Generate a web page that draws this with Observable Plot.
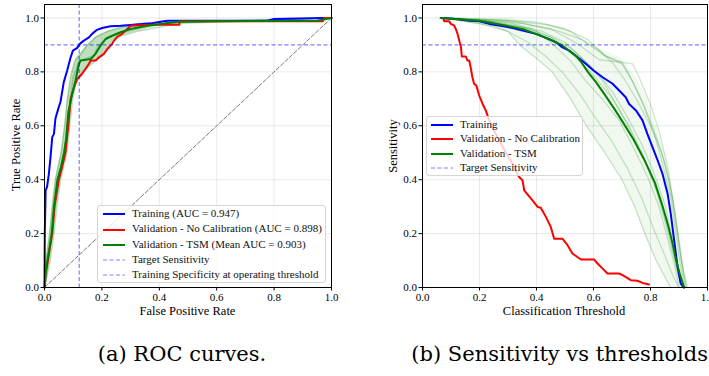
<!DOCTYPE html>
<html><head><meta charset="utf-8">
<script src="https://cdn.jsdelivr.net/npm/d3@7"></script>
<script src="https://cdn.jsdelivr.net/npm/@observablehq/plot@0.6"></script>
<style>
body{margin:0;background:#fff;}
#wrap{position:relative;width:709px;height:376px;overflow:hidden;font-family:"Liberation Serif",serif;color:#000;background:#fff;}
.panel{position:absolute;top:0;}
.lab{position:absolute;font-size:12.5px;line-height:12.5px;white-space:nowrap;}
.cap{position:absolute;font-family:"DejaVu Serif",serif;font-size:21px;line-height:21px;white-space:nowrap;transform:translateX(-50%);}
.legend{position:absolute;background:rgba(255,255,255,0.8);border:1px solid #d6d6d6;border-radius:3px;box-sizing:border-box;color:#111;}
.row{position:absolute;white-space:nowrap;line-height:1;}
.sw{position:absolute;}
</style></head>
<body><div id="wrap"></div>
<script>
// ---------- data: panel (a) ROC ----------
const ticks = [0, 0.2, 0.4, 0.6, 0.8, 1.0];
const targetSensitivity = 0.9;
const trainingOpFPR = 0.121;
const chance = [0, 1];

const blueA = [[0,0],[0.001,0.2],[0.004,0.36],[0.009,0.373],[0.015,0.42],[0.021,0.484],[0.027,0.558],[0.033,0.57],[0.038,0.626],[0.047,0.66],[0.056,0.69],[0.067,0.761],[0.079,0.805],[0.091,0.854],[0.099,0.879],[0.114,0.889],[0.123,0.904],[0.137,0.916],[0.155,0.928],[0.166,0.941],[0.183,0.956],[0.201,0.963],[0.23,0.969],[0.265,0.971],[0.3,0.974],[0.37,0.98],[0.405,0.986],[0.428,0.99],[0.777,0.99],[0.8,0.996],[0.974,1],[1,1]];
const redA = [[0,0],[0.003,0.05],[0.012,0.1],[0.019,0.15],[0.027,0.2],[0.035,0.3],[0.05,0.4],[0.062,0.45],[0.073,0.5],[0.078,0.55],[0.083,0.6],[0.091,0.7],[0.105,0.75],[0.114,0.774],[0.12,0.78],[0.131,0.793],[0.143,0.811],[0.155,0.83],[0.161,0.842],[0.178,0.842],[0.19,0.854],[0.207,0.867],[0.219,0.885],[0.236,0.904],[0.242,0.916],[0.254,0.931],[0.271,0.941],[0.288,0.959],[0.3,0.971],[0.37,0.975],[0.47,0.975],[0.47,0.988],[0.97,0.988],[0.975,1],[1,1]];
const greenA = [[0,0],[0.004,0.05],[0.01,0.1],[0.018,0.15],[0.025,0.2],[0.033,0.3],[0.045,0.4],[0.058,0.45],[0.068,0.5],[0.075,0.55],[0.079,0.6],[0.083,0.65],[0.097,0.72],[0.108,0.768],[0.12,0.83],[0.126,0.842],[0.161,0.848],[0.178,0.867],[0.195,0.897],[0.213,0.922],[0.236,0.934],[0.265,0.947],[0.3,0.959],[0.358,0.971],[0.42,0.98],[0.47,0.986],[0.6,0.988],[0.95,0.99],[1,1]];
const runA1 = [[0,0],[0.005,0.1],[0.018,0.2],[0.027,0.3],[0.038,0.4],[0.058,0.5],[0.07,0.6],[0.08,0.7],[0.09,0.78],[0.105,0.84],[0.13,0.87],[0.15,0.9],[0.18,0.93],[0.22,0.95],[0.28,0.97],[0.4,0.98],[1,1]];
const runA2 = [[0,0],[0.02,0.1],[0.033,0.2],[0.043,0.3],[0.056,0.4],[0.078,0.5],[0.088,0.6],[0.098,0.7],[0.108,0.75],[0.13,0.8],[0.19,0.85],[0.225,0.9],[0.26,0.93],[0.32,0.95],[0.42,0.97],[0.48,0.98],[1,1]];
const runA3 = [[0,0],[0.012,0.1],[0.025,0.2],[0.035,0.3],[0.048,0.4],[0.07,0.5],[0.08,0.6],[0.09,0.7],[0.1,0.78],[0.12,0.84],[0.17,0.86],[0.19,0.9],[0.22,0.93],[0.28,0.95],[0.36,0.97],[0.46,0.985],[1,1]];
const bandAY  = [0, 0.1, 0.2, 0.3, 0.4, 0.5, 0.6, 0.7, 0.75, 0.8, 0.85, 0.9, 0.93, 0.95, 0.97, 0.98];
const bandALo = [0, 0.005, 0.018, 0.027, 0.038, 0.058, 0.071, 0.08, 0.088, 0.097, 0.11, 0.15, 0.18, 0.22, 0.28, 0.33];
const bandAHi = [0.006, 0.02, 0.033, 0.043, 0.056, 0.078, 0.088, 0.098, 0.108, 0.13, 0.19, 0.225, 0.26, 0.32, 0.4, 0.48];

// ---------- data: panel (b) sensitivity vs threshold ----------
const blueB = [[0.064,1.0],[0.117,0.996],[0.164,0.99],[0.199,0.988],[0.234,0.978],[0.269,0.972],[0.316,0.963],[0.351,0.953],[0.398,0.941],[0.433,0.926],[0.468,0.91],[0.491,0.891],[0.515,0.879],[0.538,0.86],[0.573,0.83],[0.6,0.805],[0.632,0.78],[0.667,0.756],[0.69,0.731],[0.713,0.706],[0.725,0.681],[0.749,0.657],[0.772,0.62],[0.789,0.57],[0.807,0.521],[0.825,0.472],[0.842,0.422],[0.86,0.348],[0.871,0.274],[0.883,0.175],[0.895,0.077],[0.906,0.015],[0.918,0]];
const redB = [[0.073,1.0],[0.076,0.988],[0.094,0.988],[0.099,0.978],[0.111,0.972],[0.117,0.959],[0.123,0.941],[0.129,0.916],[0.135,0.891],[0.138,0.857],[0.152,0.857],[0.158,0.842],[0.164,0.842],[0.17,0.811],[0.175,0.78],[0.181,0.756],[0.189,0.749],[0.199,0.712],[0.211,0.681],[0.222,0.657],[0.234,0.62],[0.251,0.583],[0.269,0.546],[0.292,0.502],[0.316,0.459],[0.339,0.41],[0.351,0.398],[0.357,0.36],[0.386,0.323],[0.404,0.299],[0.415,0.296],[0.433,0.262],[0.45,0.225],[0.462,0.181],[0.491,0.181],[0.509,0.157],[0.526,0.126],[0.556,0.104],[0.602,0.104],[0.614,0.089],[0.632,0.07],[0.649,0.052],[0.69,0.052],[0.702,0.046],[0.731,0.027],[0.754,0.025],[0.772,0.017],[0.795,0.011]];
const greenB = [[0.064,1.0],[0.199,0.99],[0.292,0.972],[0.351,0.959],[0.398,0.941],[0.444,0.922],[0.491,0.898],[0.538,0.86],[0.558,0.835],[0.58,0.8],[0.61,0.76],[0.643,0.71],[0.675,0.66],[0.705,0.61],[0.74,0.55],[0.78,0.47],[0.815,0.39],[0.84,0.31],[0.862,0.23],[0.878,0.16],[0.89,0.1],[0.903,0.05],[0.918,0]];
const runB1 = [[0.07,1],[0.25,0.995],[0.4,0.985],[0.5,0.96],[0.58,0.92],[0.64,0.86],[0.7,0.835],[0.737,0.83],[0.76,0.78],[0.8,0.68],[0.83,0.58],[0.86,0.45],[0.88,0.32],[0.9,0.18],[0.915,0.06],[0.925,0]];
const runB2 = [[0.07,1],[0.3,0.99],[0.45,0.96],[0.55,0.9],[0.62,0.845],[0.7,0.835],[0.72,0.8],[0.77,0.69],[0.81,0.58],[0.84,0.47],[0.87,0.34],[0.89,0.2],[0.905,0.08],[0.92,0]];
const runB3 = [[0.07,1],[0.2,0.99],[0.35,0.965],[0.45,0.93],[0.52,0.87],[0.59,0.8],[0.66,0.71],[0.72,0.61],[0.77,0.5],[0.81,0.4],[0.84,0.3],[0.87,0.18],[0.89,0.08],[0.91,0]];
const runB4 = [[0.07,1],[0.2,0.98],[0.3,0.95],[0.37,0.91],[0.43,0.86],[0.49,0.8],[0.55,0.72],[0.6,0.64],[0.66,0.55],[0.72,0.44],[0.77,0.33],[0.81,0.22],[0.85,0.12],[0.88,0.04],[0.9,0]];
const runB5 = [[0.065,1],[0.25,0.97],[0.3,0.95],[0.34,0.9],[0.4,0.85],[0.455,0.8],[0.52,0.7],[0.575,0.6],[0.64,0.5],[0.7,0.4],[0.745,0.3],[0.78,0.2],[0.82,0.1],[0.87,0]];
const runB6 = [[0.07,1],[0.3,0.985],[0.42,0.95],[0.5,0.91],[0.56,0.85],[0.62,0.79],[0.67,0.72],[0.72,0.63],[0.77,0.53],[0.81,0.43],[0.85,0.31],[0.875,0.19],[0.895,0.08],[0.91,0]];
const runB7 = [[0.07,1],[0.35,0.98],[0.48,0.95],[0.56,0.92],[0.62,0.88],[0.67,0.83],[0.71,0.77],[0.75,0.7],[0.8,0.6],[0.84,0.5],[0.865,0.4],[0.885,0.28],[0.9,0.16],[0.915,0.05],[0.925,0]];
const runB8 = [[0.07,1],[0.22,0.99],[0.32,0.975],[0.4,0.95],[0.46,0.9],[0.52,0.84],[0.57,0.77],[0.63,0.7],[0.69,0.62],[0.74,0.52],[0.79,0.41],[0.83,0.3],[0.86,0.18],[0.885,0.08],[0.9,0]];
const runB9 = [[0.07,1],[0.3,0.99],[0.44,0.975],[0.52,0.95],[0.585,0.9],[0.64,0.86],[0.7,0.83],[0.74,0.76],[0.78,0.67],[0.82,0.56],[0.85,0.46],[0.875,0.34],[0.895,0.2],[0.91,0.09],[0.93,0]];
const runB10 = [[0.07,1],[0.25,0.985],[0.38,0.96],[0.47,0.92],[0.53,0.88],[0.58,0.83],[0.63,0.77],[0.68,0.68],[0.73,0.58],[0.78,0.47],[0.82,0.36],[0.85,0.25],[0.875,0.14],[0.9,0.04],[0.91,0]];
const bandBY  = [1.0, 0.97, 0.95, 0.9, 0.85, 0.8, 0.7, 0.6, 0.5, 0.4, 0.3, 0.2, 0.1, 0.0];
const bandBLo = [0.065, 0.25, 0.3, 0.34, 0.4, 0.455, 0.52, 0.575, 0.64, 0.70, 0.745, 0.78, 0.82, 0.87];
const bandBHi = [0.30, 0.45, 0.52, 0.585, 0.7, 0.737, 0.79, 0.82, 0.85, 0.87, 0.885, 0.895, 0.91, 0.925];

// ---------- text ----------
const legendA = ["Training (AUC = 0.947)", "Validation - No Calibration (AUC = 0.898)", "Validation - TSM (Mean AUC = 0.903)", "Target Sensitivity", "Training Specificity at operating threshold"];
const legendB = ["Training", "Validation - No Calibration", "Validation - TSM", "Target Sensitivity"];

// ---------- helpers ----------
const BLUE = "#0000ff", RED = "#ff0000", GREEN = "#008000";
const fmt = d3.format(".1f");
const runs = (list) => list.flatMap((r, i) => r.map(p => ({run: i, x: p[0], y: p[1]})));
const band = (ys, lo, hi) => ys.map((y, i) => ({y, lo: lo[i], hi: hi[i]}));
const common = (w, ml, mr) => ({
  width: w, height: 320, marginLeft: ml, marginRight: mr, marginTop: 4, marginBottom: 33,
  x: {domain: [0, 1]}, y: {domain: [0, 1.05]},
  style: {fontFamily: '"Liberation Serif", serif', fontSize: "11px", background: "transparent", overflow: "visible", color: "#000"}
});
const gridMarks = [
  Plot.gridX(ticks, {stroke: "#b0b0b0", strokeOpacity: 0.35, strokeWidth: 0.8}),
  Plot.gridY(ticks, {stroke: "#b0b0b0", strokeOpacity: 0.35, strokeWidth: 0.8})
];
const axisMarks = () => [
  Plot.axisX(ticks, {tickFormat: fmt, tickSize: 3.5, tickPadding: 2, label: null}),
  Plot.axisY(ticks, {tickFormat: fmt, tickSize: 3.5, tickPadding: 2, label: null}),
  Plot.frame({stroke: "#000", strokeWidth: 1})
];
const dashStyle = {stroke: BLUE, strokeOpacity: 0.5, strokeWidth: 1.2, strokeDasharray: "4,2.5"};
const lineOpt = (c) => ({x: d => d[0], y: d => d[1], stroke: c, strokeWidth: 2});

const plotA = Plot.plot({
  ...common(340, 44, 9),
  marks: [
    ...gridMarks,
    Plot.line(chance.map(v => [v, v]), {x: d => d[0], y: d => d[1], stroke: "#7a7a7a", strokeWidth: 1, strokeDasharray: "4,2"}),
    Plot.areaX(band(bandAY, bandALo, bandAHi), {y: "y", x1: "lo", x2: "hi", fill: GREEN, fillOpacity: 0.25}),
    Plot.line(runs([runA1, runA2, runA3]), {x: "x", y: "y", z: "run", stroke: GREEN, strokeOpacity: 0.25, strokeWidth: 1.5}),
    Plot.line(blueA, lineOpt(BLUE)),
    Plot.line(redA, lineOpt(RED)),
    Plot.line(greenA, lineOpt(GREEN)),
    Plot.ruleY([targetSensitivity], dashStyle),
    Plot.ruleX([trainingOpFPR], dashStyle),
    ...axisMarks()
  ]
});

const plotB = Plot.plot({
  ...common(354, 67, 2),
  marks: [
    ...gridMarks,
    Plot.areaX(band(bandBY, bandBLo, bandBHi), {y: "y", x1: "lo", x2: "hi", fill: GREEN, fillOpacity: 0.06}),
    Plot.line(runs([runB1, runB2, runB3, runB4, runB5, runB6, runB7, runB8, runB9, runB10]), {x: "x", y: "y", z: "run", stroke: GREEN, strokeOpacity: 0.2, strokeWidth: 1.3}),
    Plot.line(blueB, lineOpt(BLUE)),
    Plot.line(redB, lineOpt(RED)),
    Plot.line(greenB, lineOpt(GREEN)),
    Plot.ruleY([targetSensitivity], dashStyle),
    ...axisMarks()
  ]
});

const wrap = document.getElementById("wrap");
function place(node, left, width) {
  const d = document.createElement("div");
  d.className = "panel"; d.style.left = left + "px"; d.style.width = width + "px";
  d.appendChild(node); wrap.appendChild(d);
}
place(plotA, 0, 340);
place(plotB, 355, 354);

function label(text, cx, top, rotate) {
  const d = document.createElement("div");
  d.className = "lab"; d.textContent = text;
  d.style.left = cx + "px"; d.style.top = top + "px";
  d.style.transform = rotate ? "translate(-50%,-50%) rotate(-90deg)" : "translateX(-50%)";
  wrap.appendChild(d);
}
label("False Positive Rate", 187.5, 305);
label("Classification Threshold", 564, 305);
label("True Positive Rate", 16, 145, true);
label("Sensitivity", 393, 145.5, true);

function caption(text, cx) {
  const d = document.createElement("div");
  d.className = "cap"; d.textContent = text; d.style.left = cx + "px"; d.style.top = "344px";
  wrap.appendChild(d);
}
caption("(a) ROC curves.", 182);
caption("(b) Sensitivity vs thresholds.", 563);

function legend(items, styles, box, fontSize, first, step, swX, textX) {
  const lg = document.createElement("div");
  lg.className = "legend";
  Object.assign(lg.style, {left: box[0] + "px", top: box[1] + "px", width: box[2] + "px", height: box[3] + "px", fontSize: fontSize + "px"});
  items.forEach((t, i) => {
    const cy = first + i * step;
    const s = styles[i];
    const sw = document.createElementNS("http://www.w3.org/2000/svg", "svg");
    sw.setAttribute("width", 24); sw.setAttribute("height", 6); sw.setAttribute("class", "sw");
    sw.style.left = swX + "px"; sw.style.top = (cy - 3) + "px";
    const ln = document.createElementNS("http://www.w3.org/2000/svg", "line");
    ln.setAttribute("x1", 0); ln.setAttribute("x2", 22); ln.setAttribute("y1", 3); ln.setAttribute("y2", 3);
    ln.setAttribute("stroke", s.c); ln.setAttribute("stroke-width", s.w);
    if (s.o) ln.setAttribute("stroke-opacity", s.o);
    if (s.d) ln.setAttribute("stroke-dasharray", s.d);
    sw.appendChild(ln); lg.appendChild(sw);
    const tx = document.createElement("div");
    tx.className = "row"; tx.textContent = t;
    tx.style.left = textX + "px"; tx.style.top = (cy - fontSize * 0.55) + "px";
    lg.appendChild(tx);
  });
  wrap.appendChild(lg);
}
const solid = (c) => ({c, w: 2});
const dashed = {c: BLUE, w: 1.2, o: 0.5, d: "4,2.5"};
legend(legendA, [solid(BLUE), solid(RED), solid(GREEN), dashed, dashed], [97, 205, 229, 78], 11, 8.3, 15.2, 4.5, 34);
legend(legendB, [solid(BLUE), solid(RED), solid(GREEN), dashed], [426, 116, 157, 60], 11, 8, 14.3, 4, 33);
</script></body></html>
